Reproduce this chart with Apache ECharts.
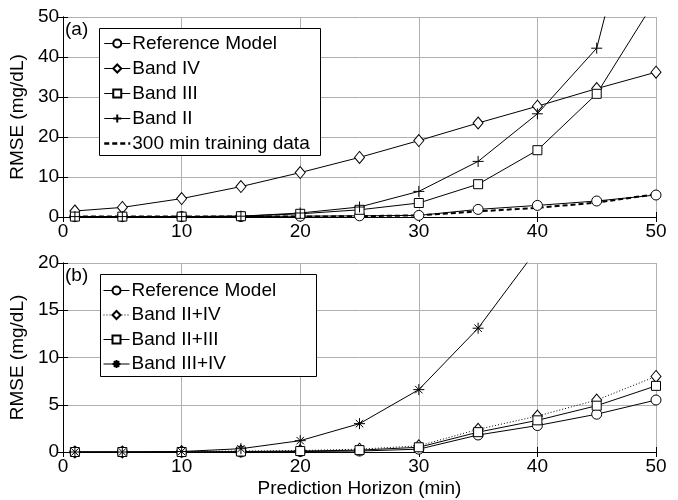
<!DOCTYPE html>
<html><head><meta charset="utf-8">
<script src="https://cdn.jsdelivr.net/npm/echarts@6/dist/echarts.min.js"></script>
<style>html,body{margin:0;padding:0;background:#fff}#c{width:678px;height:500px}</style>
</head><body><div id="c"></div>
<script>
const horizon = [1,5,10,15,20,25,30,35,40,45,50];
const xTicks = [0,10,20,30,40,50];
// panel (a)
const refA    = [0.1,0.1,0.1,0.1,0.2,0.3,0.4,1.9,2.9,4.0,5.5];
const bandIV  = [1.5,2.4,4.6,7.6,11.1,14.9,19.1,23.5,27.7,32.1,36.2];
const bandIII = [0.1,0.1,0.1,0.2,0.8,1.8,3.5,8.2,16.7,30.8,54.5];
const bandII  = [0.1,0.1,0.1,0.2,1.0,2.5,6.4,13.9,25.8,42.2,100];
const train300= [0.1,0.1,0.1,0.1,0.1,0.2,0.4,1.4,2.3,3.6,5.7];
// panel (b)
const refB    = [0,0,0,0,0.05,0.1,0.3,1.8,2.8,4.0,5.5];
const band24  = [0,0,0.05,0.1,0.15,0.3,0.65,2.4,3.8,5.5,8.0];
const band23  = [0,0,0,0.05,0.1,0.2,0.5,2.1,3.35,4.9,7.0];
const band34  = [0,0,0.05,0.35,1.2,3.0,6.6,13.1,21.5];

const FONT = "'Liberation Sans', Arial, sans-serif";
const pts = arr => arr.map((v,i)=>[horizon[i], v]);
const PLUS = 'path://M5,0L5,10M0,5L10,5';
const STAR = 'path://M5,0L5,10M0,5L10,5M1.6,1.6L8.4,8.4M8.4,1.6L1.6,8.4';

function mkSeries(name, data, xi, yi, symbol, lineType, width, size){
  return {
    name, type:'line', data:pts(data), xAxisIndex:xi, yAxisIndex:yi,
    symbol: symbol, symbolSize: size||10, showSymbol: symbol!=='none',
    lineStyle:{color:'#000', width: width||1, type: lineType||'solid'},
    itemStyle:{color:'#fff', borderColor:'#000', borderWidth:1},
    emphasis:{disabled:true}, animation:false, clip:true, z: 3
  };
}

const grids = [
  {left:63, right:22, top:17, height:200},
  {left:63, right:22, top:263, height:189}
];
const gridLine = {show:true, lineStyle:{color:'#b0b0b0', width:1}};
const lab = {color:'#000', fontSize:19, fontFamily:FONT};

function xAx(gi, showName){
  return [{
    type:'value', gridIndex:gi, min:0, max:50, interval:10, position:'bottom',
    axisLine:{show:true, lineStyle:{color:'#000'}},
    axisTick:{inside:true, length:5, lineStyle:{color:'#000'}},
    axisLabel:Object.assign({margin:5}, lab),
    splitLine:gridLine,
    name: showName ? 'Prediction Horizon (min)' : '',
    nameLocation:'middle', nameGap:27, nameTextStyle:{color:'#000', fontSize:19, fontFamily:FONT}
  },{
    type:'value', gridIndex:gi, min:0, max:50, interval:10, position:'top',
    axisLine:{show:true, lineStyle:{color:'#000'}},
    axisTick:{inside:true, length:5, lineStyle:{color:'#000'}},
    axisLabel:{show:false}, splitLine:{show:false}
  }];
}
function yAx(gi, max, interval){
  return [{
    type:'value', gridIndex:gi, min:0, max:max, interval:interval, position:'left',
    axisLine:{show:true, lineStyle:{color:'#000'}},
    axisTick:{inside:true, length:5, lineStyle:{color:'#000'}},
    axisLabel:Object.assign({margin:4}, lab),
    splitLine:gridLine,
    name:'RMSE (mg/dL)', nameLocation:'middle', nameGap:28,
    nameTextStyle:{color:'#000', fontSize:19, fontFamily:FONT}
  },{
    type:'value', gridIndex:gi, min:0, max:max, interval:interval, position:'right',
    axisLine:{show:true, lineStyle:{color:'#000'}},
    axisTick:{inside:true, length:5, lineStyle:{color:'#000'}},
    axisLabel:{show:false}, splitLine:{show:false}
  }];
}

const legendBase = {
  orient:'vertical', left:103, itemWidth:26, itemHeight:10,
  padding:0, z:10,
  textStyle:{color:'#000', fontSize:19, fontFamily:FONT, padding:[0,0,0,-3]},
  lineStyle:{width:1},
  selectedMode:false, inactiveColor:'#000'
};

const option = {
  backgroundColor:'#fff',
  animation:false,
  grid: grids,
  xAxis: [...xAx(0,false), ...xAx(1,true)],
  yAxis: [...yAx(0,50,10), ...yAx(1,20,5)],
  legend: [
    Object.assign({}, legendBase, {top:34, itemGap:6, data:['Reference Model','Band IV','Band III','Band II',
      {name:'300 min training data', lineStyle:{width:2.5, type:[5,3]},
       itemStyle:{color:'rgba(0,0,0,0)', borderColor:'rgba(0,0,0,0)', borderWidth:0}}]}),
    Object.assign({}, legendBase, {top:281, itemGap:5.5, data:['Reference Model','Band II+IV','Band II+III','Band III+IV']})
  ],
  graphic:[
    {type:'rect', shape:{x:99.5, y:28.5, width:221, height:127}, style:{fill:'#fff', stroke:'#000', lineWidth:1}, z:8},
    {type:'rect', shape:{x:100.5, y:274.5, width:216, height:102}, style:{fill:'#fff', stroke:'#000', lineWidth:1}, z:8},
    {type:'text', left:65, top:20, style:{text:'(a)', fontSize:19, fontFamily:FONT, fill:'#000'}, z:10},
    {type:'text', left:65, top:266, style:{text:'(b)', fontSize:19, fontFamily:FONT, fill:'#000'}, z:10}
  ],
  series: [
    mkSeries('Reference Model', refA, 0, 0, 'circle'),
    mkSeries('Band IV', bandIV, 0, 0, 'diamond', 'solid', 1, [10,12]),
    mkSeries('Band III', bandIII, 0, 0, 'rect', 'solid', 1, 9),
    mkSeries('Band II', bandII, 0, 0, PLUS, 'solid', 1, 11),
    mkSeries('300 min training data', train300, 0, 0, 'none', [5,3], 2),
    mkSeries('Reference Model', refB, 2, 2, 'circle'),
    mkSeries('Band II+IV', band24, 2, 2, 'diamond', [1,2], 1, [10,12]),
    mkSeries('Band II+III', band23, 2, 2, 'rect', 'solid', 1, 9),
    mkSeries('Band III+IV', band34, 2, 2, STAR, 'solid', 1, 11)
  ]
};
const chart = echarts.init(document.getElementById('c'), null, {renderer:'canvas'});
chart.setOption(option);
</script>
</body></html>
